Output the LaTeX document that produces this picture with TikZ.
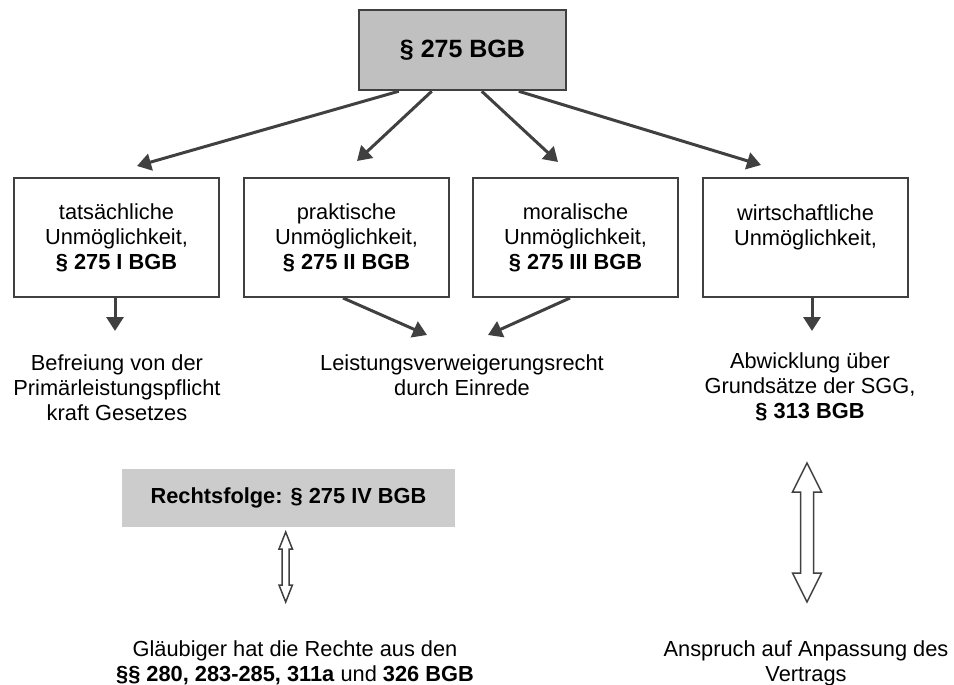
\documentclass[tikz,border=0pt]{standalone}
\usepackage{fontspec}
\setmainfont{Liberation Sans}
\usetikzlibrary{arrows.meta,calc}
\definecolor{linec}{HTML}{404040}
\definecolor{topfill}{HTML}{C0C0C0}
\definecolor{rffill}{HTML}{CCCCCC}
\begin{document}
\begin{tikzpicture}[x=1pt,y=-1pt,
  txt/.style={font=\fontsize{21.8}{25}\selectfont, align=center, inner sep=0pt, text=black},
  catbox/.style={txt, draw=linec, line width=2pt, minimum width=205pt, minimum height=119pt},
  conn/.style={draw=linec, line width=3pt, -{Triangle[length=14pt,width=17pt]}},
  dblarrow/.style={draw=linec, line width=1.5pt, fill=white, line join=miter}
]
\useasboundingbox (0,0) rectangle (954,685);

% top box
\node[txt, font=\fontsize{25}{29}\selectfont, draw=linec, line width=2.5pt, fill=topfill, minimum width=207pt, minimum height=80pt] (top) at (462.5,50) {\bfseries § 275 BGB};

% category boxes
\node[catbox] (b1) at (116.5,237.5) {tatsächliche\\Unmöglichkeit,\\\bfseries § 275 I BGB};
\node[catbox] (b2) at (346.5,237.5) {praktische\\Unmöglichkeit,\\\bfseries § 275 II BGB};
\node[catbox] (b3) at (575.5,237.5) {moralische\\Unmöglichkeit,\\\bfseries § 275 III BGB};
\node[catbox] (b4) at (805.5,237.5) {wirtschaftliche\\Unmöglichkeit,\\\mbox{}};

% arrow tips (free ends)
\coordinate (c1) at (137,166);
\coordinate (c2) at (357,161);
\coordinate (c3) at (558,162);
\coordinate (c4) at (761,165);

\draw[conn] ($(top.south west)+(41,0)$) -- (c1);
\draw[conn] ($(top.south west)+(74,0)$) -- (c2);
\draw[conn] ($(top.south west)+(124,0)$) -- (c3);
\draw[conn] ($(top.south west)+(161,0)$) -- (c4);

% consequence texts
\node[txt] (t1) at (117,388) {Befreiung von der\\Primärleistungspflicht\\kraft Gesetzes};
\node[txt] (t2) at (462,375.5) {Leistungsverweigerungsrecht\\durch Einrede};
\node[txt] (t3) at (810,387) {Abwicklung über\\Grundsätze der SGG,\\\bfseries § 313 BGB};

\coordinate (d1) at (115,331);
\coordinate (d2) at (427,335);
\coordinate (d3) at (488,335);
\coordinate (d4) at (812,331);

\draw[conn] ($(b1.south)+(-1.5,0)$) -- (d1);
\draw[conn] ($(b2.south)+(-3.5,0)$) -- (d2);
\draw[conn] ($(b3.south)+(-5.5,0)$) -- (d3);
\draw[conn] ($(b4.south)+(6.5,0)$) -- (d4);

% Rechtsfolge
\node[txt, fill=rffill, minimum width=333pt, minimum height=58pt] (rf) at (288.5,498) {\bfseries Rechtsfolge: § 275 IV BGB};

% bottom texts
\node[txt] (g) at (295,663) {Gläubiger hat die Rechte aus den\\\textbf{§§ 280, 283-285, 311a} und \textbf{326 BGB}};
\node[txt] (a) at (806,663) {Anspruch auf Anpassung des\\Vertrags};

% small double arrow
\draw[dblarrow] (285.7,532) -- (292.4,549) -- (289.2,549) -- (289.2,585) -- (292.4,585) -- (285.7,602)
  -- (279.0,585) -- (282.2,585) -- (282.2,549) -- (279.0,549) -- cycle;

% big double arrow
\draw[dblarrow] (807,463) -- (821.5,492) -- (813.5,492) -- (813.5,573) -- (821.5,573) -- (807,602)
  -- (792.5,573) -- (800.5,573) -- (800.5,492) -- (792.5,492) -- cycle;
\end{tikzpicture}
\end{document}
